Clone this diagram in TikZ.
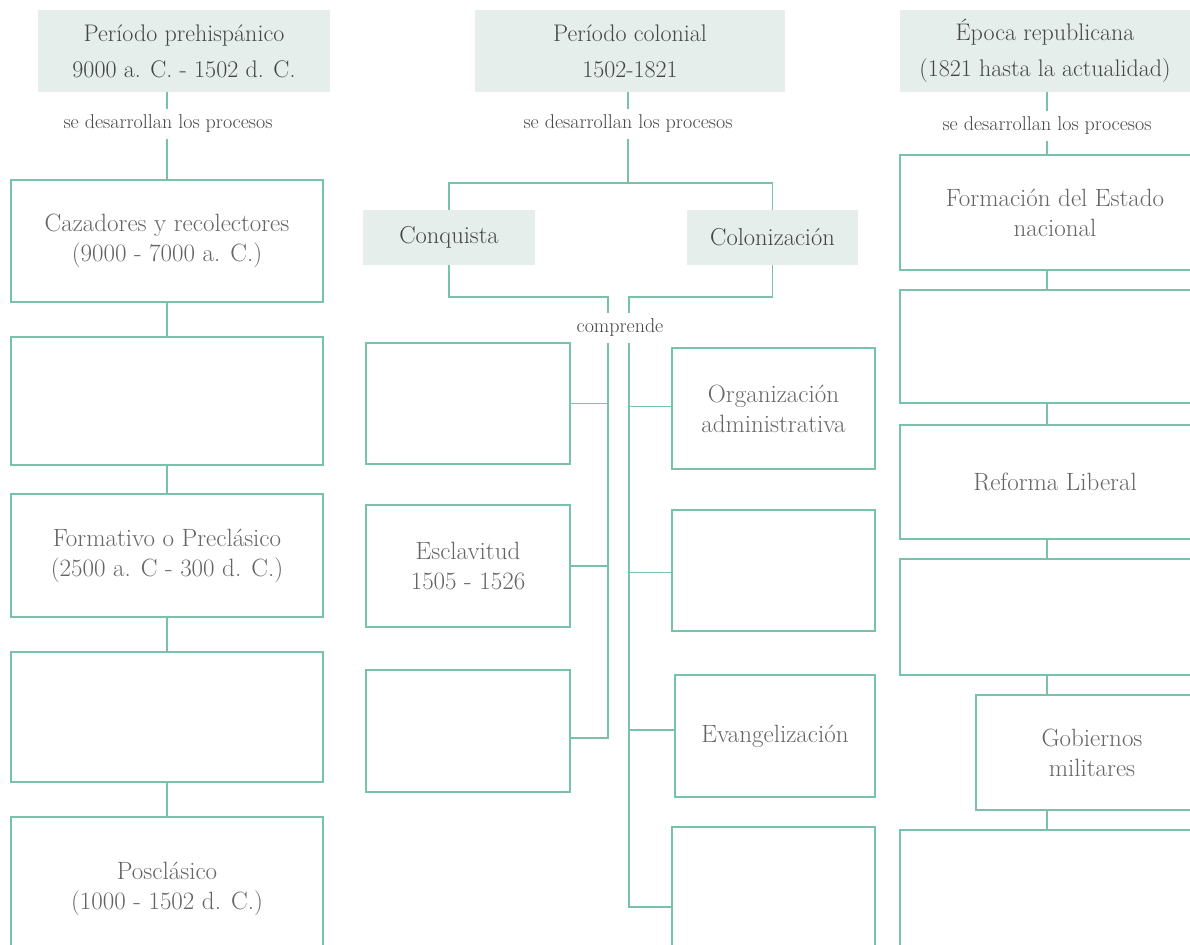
\documentclass[tikz,border=0pt]{standalone}
\usepackage{fontspec}
\definecolor{ln}{HTML}{78C2AA}
\definecolor{hf}{HTML}{E5EEEA}
\definecolor{tx}{HTML}{454545}
\definecolor{txb}{HTML}{656565}
\begin{document}
\begin{tikzpicture}[x=1pt,y=-1pt,
  hdr/.style={rectangle,fill=hf,draw=none,inner sep=0pt,align=center,text=tx,font=\fontsize{24}{36}\selectfont},
  sub/.style={rectangle,fill=hf,draw=none,inner sep=0pt,align=center,text=tx,font=\fontsize{24.5}{30}\selectfont},
  box/.style={rectangle,draw=ln,line width=1.8pt,fill=white,inner sep=0pt,align=center,text=txb,font=\fontsize{25}{30}\selectfont},
  lbl/.style={fill=white,inner xsep=3pt,inner ysep=0pt,minimum height=30pt,text=tx,font=\fontsize{20}{22}\selectfont},
  conn/.style={draw=ln,line width=1.4pt}]
\useasboundingbox (0,0) rectangle (1190,944);
\clip (0,0) rectangle (1190,944);

% ---------- left column ----------
\node[hdr,minimum width=292pt,minimum height=82pt] (H1) at (184,51) {Período prehispánico\\9000 a. C. - 1502 d. C.};
\node[box,minimum width=312pt,minimum height=122pt] (A1) at (167,241) {Cazadores y recolectores\\(9000 - 7000 a. C.)};
\node[box,minimum width=312pt,minimum height=128pt] (A2) at (167,401) {};
\node[box,minimum width=312pt,minimum height=123pt] (A3) at (167,555.5) {Formativo o Preclásico\\(2500 a. C - 300 d. C.)};
\node[box,minimum width=312pt,minimum height=130pt] (A4) at (167,717) {};
\node[box,minimum width=312pt,minimum height=143pt] (A5) at (167,888.5) {Posclásico\\(1000 - 1502 d. C.)};

\draw[conn] (A1.north) -- (A1.north |- H1.south);
\draw[conn] (A1.south) -- (A2.north);
\draw[conn] (A2.south) -- (A3.north);
\draw[conn] (A3.south) -- (A4.north);
\draw[conn] (A4.south) -- (A5.north);
\node[lbl] (S1) at (168,124) {se desarrollan los procesos};

% ---------- middle column ----------
\node[hdr,minimum width=310pt,minimum height=82pt] (H2) at (630,51) {Período colonial\\1502-1821};
\node[sub,minimum width=172pt,minimum height=55pt] (C1) at (449,237.5) {Conquista};
\node[sub,minimum width=171pt,minimum height=55pt] (C2) at (772.5,237.5) {Colonización};

\node[box,minimum width=204pt,minimum height=121pt] (L1) at (468,403.5) {};
\node[box,minimum width=204pt,minimum height=122pt] (L2) at (468,566) {Esclavitud\\1505 - 1526};
\node[box,minimum width=204pt,minimum height=122pt] (L3) at (468,731) {};

\node[box,minimum width=203pt,minimum height=121pt] (R1) at (773.5,408.5) {Organización\\administrativa};
\node[box,minimum width=203pt,minimum height=121pt] (R2) at (773.5,570.5) {};
\node[box,minimum width=200pt,minimum height=122pt] (R3) at (775,736) {Evangelización};
\node[box,minimum width=203pt,minimum height=133pt] (R4) at (773.5,893.5) {};

\coordinate (hb) at (628,183);
\coordinate (jl) at (608,297);
\coordinate (jr) at (629,297);
\coordinate (L3e) at ([yshift=-7pt]L3.east);
\coordinate (R4w) at ([yshift=-13.5pt]R4.west);

\draw[conn] (H2.south -| hb) -- (hb);
\draw[conn] (C1.north) |- (hb) -| (C2.north);
\draw[conn] (C1.south) |- (jl) -- (jl |- L3e) -- (L3e);
\draw[conn] (C2.south) |- (jr) -- (jr |- R4w) -- (R4w);
\draw[conn] (L1.east) -- (L1.east -| jl);
\draw[conn] (L2.east) -- (L2.east -| jl);
\draw[conn] ([yshift=2pt]R1.west) -- ([yshift=2pt]R1.west -| jr);
\draw[conn] ([yshift=-2pt]R2.west) -- ([yshift=-2pt]R2.west -| jr);
\draw[conn] ([yshift=6pt]R3.west) -- ([yshift=6pt]R3.west -| jr);
\node[lbl] (S2) at (628,124) {se desarrollan los procesos};
\node[lbl] (CP) at (620,328) {comprende};

% ---------- right column ----------
\node[hdr,minimum width=290pt,minimum height=82pt] (H3) at (1045,51) {Época republicana\\(1821 hasta la actualidad)};
\node[box,minimum width=310pt,minimum height=115pt] (E1) at (1055,212.5) {Formación del Estado\\nacional};
\node[box,minimum width=310pt,minimum height=113pt] (E2) at (1055,346.5) {};
\node[box,minimum width=310pt,minimum height=114pt] (E3) at (1055,482) {Reforma Liberal};
\node[box,minimum width=310pt,minimum height=116pt] (E4) at (1055,617) {};
\node[box,minimum width=232pt,minimum height=115pt] (E5) at (1092,752.5) {Gobiernos\\militares};
\node[box,minimum width=310pt,minimum height=130pt] (E6) at (1055,895) {};

\coordinate (rc) at (1047,0);
\draw[conn] (E1.north -| rc) -- (H3.south -| rc);
\draw[conn] (E1.south -| rc) -- (E2.north -| rc);
\draw[conn] (E2.south -| rc) -- (E3.north -| rc);
\draw[conn] (E3.south -| rc) -- (E4.north -| rc);
\draw[conn] (E4.south -| rc) -- (E5.north -| rc);
\draw[conn] (E5.south -| rc) -- (E6.north -| rc);
\node[lbl] (S3) at (1047,126) {se desarrollan los procesos};
\end{tikzpicture}
\end{document}
